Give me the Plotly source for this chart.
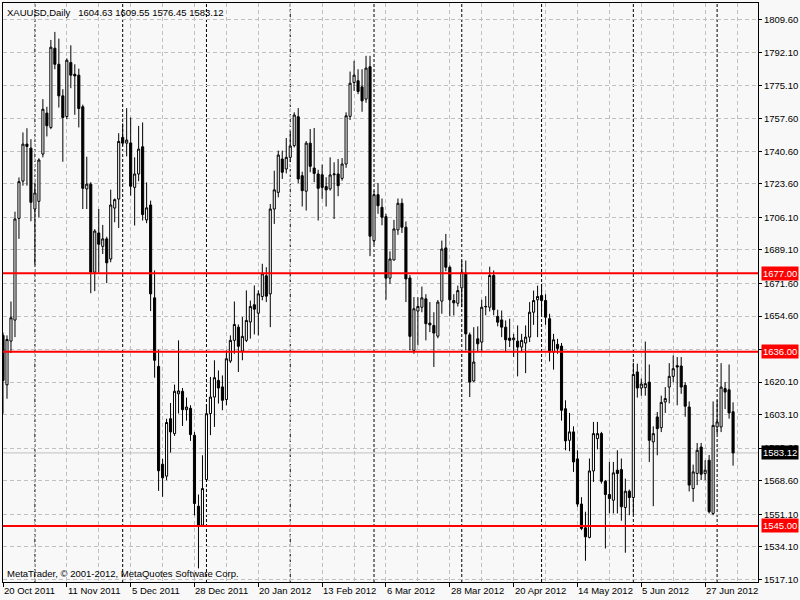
import pandas as pd
import plotly.graph_objects as go

# ---------------- data ----------------
HOLIDAYS = ["2011-12-26", "2012-01-02", "2012-04-06"]
DATES = [d for d in pd.bdate_range("2011-10-20", "2012-07-06") if d.strftime("%Y-%m-%d") not in HOLIDAYS]

OPEN = [1644.5, 1618.7, 1641.5, 1652.5, 1705.6, 1725.1, 1744.4, 1742.3, 1710.5, 1714.5,
        1739.2, 1760.6, 1753.1, 1794.5, 1786.1, 1769.6, 1758.8, 1787.0, 1780.9, 1780.4,
        1763.9, 1721.0, 1723.5, 1677.5, 1698.0, 1691.0, 1694.9, 1684.4, 1711.0, 1715.7,
        1747.9, 1744.9, 1745.0, 1721.8, 1728.8, 1743.0, 1704.8, 1712.6, 1664.1, 1628.3,
        1577.2, 1571.0, 1601.0, 1593.2, 1614.0, 1615.3, 1605.7, 1606.4, 1592.3, 1555.3,
        1545.4, 1569.2, 1603.7, 1612.3, 1621.0, 1617.6, 1611.0, 1631.1, 1641.9, 1648.8,
        1636.3, 1641.9, 1651.5, 1660.5, 1656.1, 1664.8, 1675.6, 1666.2, 1710.5, 1719.2,
        1736.6, 1731.4, 1737.5, 1743.6, 1758.7, 1727.9, 1719.8, 1744.9, 1731.9, 1728.8,
        1728.4, 1722.2, 1721.0, 1728.4, 1728.8, 1726.5, 1734.0, 1758.9, 1776.6, 1777.5,
        1774.3, 1767.9, 1784.8, 1694.0, 1718.0, 1711.4, 1706.5, 1674.4, 1683.9, 1699.6,
        1713.5, 1701.0, 1674.5, 1636.7, 1657.2, 1659.2, 1663.6, 1650.9, 1649.7, 1644.1,
        1662.4, 1690.2, 1680.1, 1662.7, 1661.3, 1669.3, 1677.0, 1644.8, 1620.7, 1642.7,
        1641.0, 1659.4, 1659.2, 1675.8, 1654.4, 1652.6, 1648.8, 1643.1, 1642.2, 1641.5,
        1638.4, 1640.5, 1643.6, 1656.6, 1663.1, 1665.3, 1662.7, 1653.2, 1635.8, 1639.8,
        1638.9, 1606.2, 1589.7, 1594.1, 1580.0, 1556.4, 1544.0, 1539.0, 1573.7, 1590.6,
        1593.2, 1568.3, 1561.4, 1558.4, 1574.1, 1574.4, 1554.6, 1563.1, 1559.8, 1625.4,
        1617.0, 1617.2, 1620.1, 1588.9, 1601.9, 1596.3, 1609.7, 1617.5, 1623.1, 1628.7,
        1628.5, 1618.4, 1607.1, 1564.5, 1572.4, 1586.2, 1572.4, 1579.3, 1551.5, 1596.7,
        1596.7, 1616.7, 1616.1, 1604.63]
HIGH = [1646.0, 1644.5, 1662.2, 1709.1, 1727.0, 1750.5, 1752.7, 1747.0, 1724.4, 1737.0,
        1767.9, 1763.9, 1798.8, 1803.0, 1799.5, 1773.1, 1789.2, 1796.0, 1786.1, 1783.8,
        1765.0, 1737.8, 1724.5, 1700.0, 1710.5, 1702.2, 1696.0, 1720.6, 1716.0, 1750.1,
        1755.2, 1763.2, 1758.3, 1737.5, 1753.9, 1755.7, 1724.4, 1714.9, 1678.4, 1637.0,
        1580.0, 1601.0, 1609.2, 1618.8, 1641.9, 1617.0, 1612.0, 1608.0, 1594.0, 1561.4,
        1581.9, 1608.3, 1622.8, 1631.5, 1626.2, 1623.6, 1636.7, 1644.5, 1662.2, 1650.2,
        1654.1, 1668.0, 1662.7, 1670.6, 1668.0, 1681.9, 1680.1, 1713.1, 1730.5, 1741.0,
        1741.0, 1747.6, 1751.4, 1761.0, 1763.2, 1730.0, 1746.0, 1752.3, 1752.8, 1731.0,
        1733.7, 1727.1, 1737.5, 1734.9, 1736.6, 1737.1, 1761.0, 1782.3, 1787.9, 1783.5,
        1783.5, 1790.5, 1790.5, 1720.0, 1724.1, 1716.0, 1708.0, 1688.4, 1704.8, 1716.0,
        1716.0, 1704.0, 1676.0, 1664.5, 1664.5, 1670.0, 1666.0, 1661.9, 1656.6, 1663.0,
        1694.0, 1697.5, 1681.0, 1666.0, 1670.5, 1683.6, 1683.6, 1646.0, 1648.8, 1649.2,
        1663.1, 1665.0, 1680.4, 1678.4, 1657.9, 1657.5, 1652.3, 1653.2, 1645.3, 1649.7,
        1645.3, 1649.7, 1661.9, 1667.9, 1670.5, 1671.4, 1666.0, 1655.8, 1645.3, 1642.7,
        1640.5, 1610.6, 1604.0, 1597.0, 1584.5, 1560.0, 1552.4, 1580.2, 1599.3, 1599.3,
        1594.1, 1569.0, 1578.4, 1578.4, 1584.5, 1580.2, 1569.7, 1564.0, 1630.2, 1629.7,
        1622.0, 1641.3, 1629.3, 1597.0, 1604.5, 1613.0, 1617.5, 1630.0, 1634.0, 1633.2,
        1633.2, 1620.0, 1610.0, 1577.0, 1588.3, 1588.3, 1579.3, 1582.0, 1610.0, 1610.6,
        1630.0, 1620.1, 1629.3, 1609.55]
LOW = [1603.6, 1611.4, 1635.3, 1643.6, 1694.9, 1722.7, 1722.7, 1704.1, 1681.0, 1706.2,
       1737.5, 1748.4, 1752.2, 1783.5, 1763.5, 1735.2, 1757.4, 1773.6, 1759.7, 1753.1,
       1710.5, 1710.5, 1666.5, 1667.6, 1677.5, 1687.0, 1671.8, 1682.7, 1703.6, 1700.6,
       1743.5, 1738.0, 1717.5, 1701.9, 1725.0, 1704.5, 1703.1, 1657.2, 1622.4, 1563.3,
       1560.2, 1568.9, 1583.3, 1592.0, 1603.7, 1597.2, 1600.0, 1589.4, 1550.5, 1522.8,
       1544.5, 1568.0, 1592.4, 1596.7, 1608.9, 1605.4, 1608.0, 1630.1, 1634.9, 1625.4,
       1631.5, 1641.0, 1642.8, 1645.0, 1644.5, 1662.8, 1661.9, 1648.8, 1702.7, 1716.6,
       1726.2, 1729.1, 1735.0, 1742.7, 1724.0, 1711.8, 1709.7, 1729.7, 1724.5, 1704.5,
       1715.8, 1711.8, 1720.1, 1705.3, 1717.2, 1725.3, 1732.0, 1757.0, 1772.2, 1770.5,
       1761.3, 1766.0, 1685.9, 1692.0, 1708.0, 1702.0, 1663.1, 1671.4, 1683.6, 1697.0,
       1698.0, 1661.9, 1636.7, 1634.9, 1639.3, 1656.6, 1641.9, 1646.2, 1628.0, 1643.0,
       1655.8, 1678.0, 1654.4, 1654.9, 1659.6, 1659.2, 1636.6, 1612.3, 1620.1, 1635.8,
       1636.3, 1655.0, 1657.0, 1655.0, 1649.2, 1643.6, 1635.8, 1638.4, 1633.2, 1623.1,
       1635.8, 1624.8, 1641.0, 1650.0, 1643.6, 1655.0, 1650.0, 1630.9, 1626.6, 1634.9,
       1600.0, 1584.5, 1584.0, 1573.2, 1555.0, 1542.8, 1526.8, 1538.5, 1568.0, 1585.0,
       1567.1, 1533.2, 1551.5, 1551.5, 1551.5, 1547.7, 1531.0, 1550.6, 1550.6, 1612.0,
       1613.0, 1613.0, 1578.4, 1555.3, 1581.9, 1594.0, 1604.0, 1609.0, 1620.0, 1608.0,
       1614.0, 1602.0, 1563.0, 1557.6, 1566.3, 1568.9, 1568.9, 1551.5, 1550.6, 1593.0,
       1594.0, 1606.0, 1601.0, 1576.45]
CLOSE = [1621.0, 1642.4, 1653.7, 1705.3, 1724.8, 1744.4, 1743.2, 1714.0, 1718.9, 1736.1,
         1762.6, 1754.0, 1795.0, 1786.1, 1769.6, 1758.3, 1788.2, 1780.4, 1780.0, 1763.0,
         1721.3, 1723.5, 1677.5, 1699.0, 1692.1, 1694.9, 1682.4, 1712.6, 1715.4, 1745.8,
         1744.9, 1746.5, 1722.4, 1728.8, 1741.8, 1707.6, 1711.1, 1666.2, 1631.5, 1573.8,
         1570.1, 1599.0, 1594.1, 1615.3, 1615.5, 1605.7, 1607.1, 1592.7, 1556.7, 1545.4,
         1564.5, 1603.6, 1612.3, 1622.4, 1617.0, 1610.6, 1632.3, 1641.9, 1650.2, 1638.8,
         1644.0, 1652.3, 1659.6, 1658.2, 1666.2, 1676.7, 1665.0, 1710.5, 1720.5, 1738.7,
         1729.7, 1737.5, 1743.4, 1759.6, 1726.2, 1720.1, 1744.9, 1732.8, 1729.1, 1721.3,
         1721.8, 1720.5, 1728.3, 1728.8, 1722.7, 1734.0, 1759.2, 1776.2, 1780.4, 1771.9,
         1767.0, 1784.1, 1696.3, 1718.0, 1712.2, 1706.2, 1674.4, 1684.4, 1700.1, 1713.5,
         1701.0, 1674.0, 1644.0, 1658.4, 1659.6, 1664.1, 1650.6, 1650.0, 1645.7, 1661.9,
         1689.6, 1680.1, 1663.1, 1661.5, 1667.9, 1677.5, 1645.3, 1620.1, 1630.6, 1640.1,
         1659.2, 1659.6, 1675.8, 1657.9, 1651.4, 1648.8, 1642.2, 1641.9, 1643.1, 1638.4,
         1641.9, 1643.6, 1656.6, 1662.7, 1664.8, 1662.7, 1654.0, 1635.8, 1642.2, 1637.7,
         1605.4, 1589.4, 1594.1, 1578.4, 1556.4, 1543.7, 1539.3, 1573.7, 1593.2, 1593.2,
         1568.3, 1561.4, 1559.3, 1572.7, 1572.4, 1555.0, 1563.1, 1559.8, 1624.1, 1617.0,
         1619.1, 1619.3, 1589.7, 1593.2, 1595.8, 1609.5, 1611.5, 1623.1, 1627.1, 1628.0,
         1617.5, 1607.5, 1566.3, 1573.2, 1584.5, 1572.0, 1574.1, 1552.4, 1597.5, 1599.3,
         1617.5, 1614.9, 1604.0, 1583.12]

TICK_LABELS = ["20 Oct 2011", "11 Nov 2011", "5 Dec 2011", "28 Dec 2011", "20 Jan 2012",
               "13 Feb 2012", "6 Mar 2012", "28 Mar 2012", "20 Apr 2012", "14 May 2012",
               "5 Jun 2012", "27 Jun 2012"]
PRICE_TICKS = [1809.60, 1792.10, 1775.10, 1757.60, 1740.60, 1723.60, 1706.10, 1689.10,
               1671.60, 1654.60, 1637.10, 1620.10, 1603.10, 1585.60, 1568.60, 1551.10,
               1534.10, 1517.10]
LEVELS = [1677.00, 1636.00, 1545.00]
SYMBOL = "XAUUSD,Daily"
LAST = {"open": 1604.63, "high": 1609.55, "low": 1576.45, "close": 1583.12}
COPYRIGHT = "MetaTrader, © 2001-2012, MetaQuotes Software Corp."

# ---------------- figure ----------------
FONT = "Liberation Sans, Arial, sans-serif"
FS = 9.5
BG = "#F8F8F8"
GRID = "#C0C0C0"
n = len(DATES)
xs = list(range(n))
date_labels = [d.strftime("%-d %b %Y") for d in DATES]
tick_pos = [date_labels.index(t) for t in TICK_LABELS]

fig = go.Figure()
fig.add_trace(go.Candlestick(
    x=xs, open=OPEN, high=HIGH, low=LOW, close=CLOSE,
    text=date_labels, hoverinfo="text+y",
    increasing=dict(line=dict(color="black", width=1), fillcolor="white"),
    decreasing=dict(line=dict(color="black", width=1), fillcolor="black"),
    whiskerwidth=0, showlegend=False,
))

shapes = []
# month separators (first bar of each month)
for i in range(1, n):
    if DATES[i].month != DATES[i - 1].month:
        shapes.append(dict(type="line", xref="x", yref="paper", x0=i, x1=i, y0=0, y1=1,
                           line=dict(color="black", width=1, dash="3px,2px"), layer="between"))
# current price line
shapes.append(dict(type="line", xref="paper", yref="y", x0=0, x1=1,
                   y0=LAST["close"], y1=LAST["close"],
                   line=dict(color=GRID, width=1), layer="between"))
# horizontal levels
for lv in LEVELS:
    shapes.append(dict(type="line", xref="paper", yref="y", x0=0, x1=1, y0=lv, y1=lv,
                       line=dict(color="#FF0000", width=2), layer="above"))

annotations = []
for pos, lab in zip(tick_pos, TICK_LABELS):
    annotations.append(dict(x=pos, xref="x", y=0, yref="paper", text=lab, showarrow=False,
                            xanchor="left", yanchor="top", yshift=-1, xshift=-1,
                            font=dict(family=FONT, size=FS, color="black")))
for lv in LEVELS:
    annotations.append(dict(x=1, xref="paper", y=lv, yref="y", text=f"{lv:.2f}",
                            showarrow=False, xanchor="left", yanchor="middle", xshift=3,
                            bgcolor="#FF0000", borderpad=1,
                            font=dict(family=FONT, size=FS, color="white")))
annotations.append(dict(x=1, xref="paper", y=LAST["close"], yref="y", text=f"{LAST['close']:.2f}",
                        showarrow=False, xanchor="left", yanchor="middle", xshift=3,
                        bgcolor="black", borderpad=1,
                        font=dict(family=FONT, size=FS, color="white")))
annotations.append(dict(x=0, xref="paper", y=1, yref="paper",
                        text=f"{SYMBOL}&nbsp;&nbsp; {LAST['open']:.2f} {LAST['high']:.2f} "
                             f"{LAST['low']:.2f} {LAST['close']:.2f}",
                        showarrow=False, xanchor="left", yanchor="top", xshift=2, yshift=-2,
                        font=dict(family=FONT, size=FS, color="black")))
annotations.append(dict(x=0, xref="paper", y=0, yref="paper", text=COPYRIGHT,
                        showarrow=False, xanchor="left", yanchor="bottom", xshift=2, yshift=1,
                        font=dict(family=FONT, size=FS, color="black")))

fig.update_layout(
    width=800, height=600,
    margin=dict(l=3, r=40, t=2, b=18),
    paper_bgcolor=BG, plot_bgcolor=BG,
    boxgap=0.25,
    shapes=shapes, annotations=annotations,
    showlegend=False,
    xaxis=dict(
        range=[0, 189.25], rangeslider=dict(visible=False),
        tickmode="linear", tick0=0, dtick=16,
        ticks="outside", ticklen=4, tickcolor="black", showticklabels=False,
        showgrid=True, gridcolor=GRID, griddash="4px,3px", gridwidth=1,
        minor=dict(tickmode="linear", tick0=0, dtick=8, showgrid=True,
                   gridcolor=GRID, griddash="4px,3px", gridwidth=1, ticks=""),
        showline=True, linecolor="black", linewidth=1, mirror=True, zeroline=False,
    ),
    yaxis=dict(
        range=[1515.7, 1818.1], side="right",
        tickmode="array", tickvals=PRICE_TICKS, ticktext=[f"{v:.2f}" for v in PRICE_TICKS],
        ticks="outside", ticklen=3, tickcolor="black",
        tickfont=dict(family=FONT, size=FS, color="black"),
        showgrid=True, gridcolor=GRID, griddash="4px,3px", gridwidth=1,
        showline=True, linecolor="black", linewidth=1, mirror=True, zeroline=False,
    ),
)

fig.write_html("out.html", config={"displayModeBar": False},
               post_script="document.body.style.margin='0';document.body.style.background='#F8F8F8';")
